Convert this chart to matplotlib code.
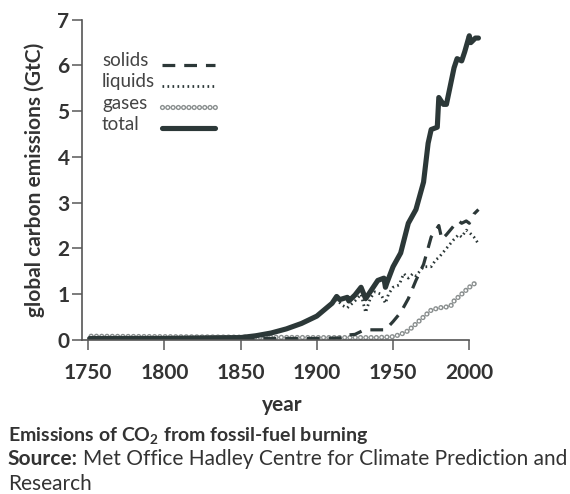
import numpy as np
import matplotlib.pyplot as plt
from matplotlib.lines import Line2D

plt.rcParams['font.family'] = ['Lato', 'DejaVu Sans']
plt.rcParams['mathtext.fontset'] = 'custom'
plt.rcParams['mathtext.bf'] = 'Lato:bold'
plt.rcParams['mathtext.rm'] = 'Lato'
plt.rcParams['mathtext.default'] = 'bf'

ink = '#2c3838'
txt = '#333333'

# values (GtC)
total_years = [1751, 1800, 1850, 1860, 1870, 1880, 1890, 1900, 1910, 1913, 1915,
               1920, 1921, 1925, 1929, 1932, 1937, 1940, 1944, 1945, 1946, 1950,
               1955, 1960, 1965, 1970, 1973, 1975, 1979, 1980, 1983, 1985, 1990,
               1992, 1995, 1997, 2000, 2001, 2004, 2006]
total_vals = [0.03, 0.03, 0.05, 0.09, 0.15, 0.24, 0.36, 0.52, 0.80, 0.95, 0.88,
              0.93, 0.85, 0.98, 1.15, 0.90, 1.15, 1.30, 1.35, 1.15, 1.25, 1.60,
              1.90, 2.55, 2.85, 3.45, 4.30, 4.60, 4.65, 5.30, 5.15, 5.15, 5.95,
              6.15, 6.10, 6.30, 6.65, 6.50, 6.60, 6.60]

liquid_years = [1751, 1800, 1850, 1860, 1870, 1880, 1890, 1900, 1910, 1913, 1917,
                1920, 1925, 1929, 1932, 1935, 1938, 1942, 1945, 1947, 1950, 1954,
                1957, 1960, 1963, 1965, 1970, 1975, 1978, 1980, 1985, 1990, 1993,
                1995, 1998, 2000, 2003, 2006]
liquid_vals = [0.04, 0.05, 0.07, 0.10, 0.16, 0.24, 0.36, 0.52, 0.80, 0.88, 0.75,
               0.70, 0.85, 1.00, 0.60, 0.90, 1.05, 1.00, 0.80, 1.00, 1.15, 1.20,
               1.45, 1.35, 1.45, 1.40, 1.60, 1.60, 1.75, 1.80, 2.00, 2.20, 2.30,
               2.25, 2.40, 2.35, 2.25, 2.10]

solid_years = [1751, 1850, 1900, 1915, 1918, 1925, 1930, 1935, 1945, 1950, 1955,
               1960, 1965, 1970, 1975, 1978, 1980, 1982, 1985, 1990, 1993, 1995,
               1998, 2000, 2003, 2006]
solid_vals = [0.03, 0.03, 0.03, 0.04, 0.10, 0.12, 0.20, 0.22, 0.22, 0.40, 0.60,
              0.90, 1.30, 1.65, 2.25, 2.40, 2.50, 2.20, 2.30, 2.50, 2.60, 2.55,
              2.60, 2.55, 2.75, 2.85]

gas_years = [1752, 1800, 1850, 1900, 1940, 1950, 1955, 1960, 1965, 1970, 1975,
             1980, 1985, 1988, 1990, 1995, 2000, 2005]
gas_vals = [0.08, 0.07, 0.06, 0.05, 0.05, 0.07, 0.12, 0.20, 0.35, 0.50, 0.65,
            0.70, 0.72, 0.75, 0.85, 1.00, 1.15, 1.27]

labels = ['solids', 'liquids', 'gases', 'total']

# line styles
gap = 3.8
gas_out = dict(color='#8a8f8f', lw=3.8, linestyle=(0, (0.001, gap / 3.8)),
               dash_capstyle='round')
gas_in = dict(color='white', lw=1.8, linestyle=(0, (0.001, gap / 1.8)),
              dash_capstyle='round')
solid_st = dict(color=ink, lw=2.3, linestyle=(0, (4, 2.8)))
liquid_st = dict(color=ink, lw=2.0, linestyle=(0, (0.6, 1.2)))
total_st = dict(color=ink, lw=3.7, solid_capstyle='round', solid_joinstyle='round')

fig = plt.figure(figsize=(5.7, 4.94), dpi=100)
ax = fig.add_axes([0.1439, 0.312, 0.7035, 0.648])

ax.plot(gas_years, gas_vals, **gas_out)
ax.plot(gas_years, gas_vals, **gas_in)
ax.plot(solid_years, solid_vals, **solid_st)
ax.plot(liquid_years, liquid_vals, **liquid_st)
ax.plot(total_years, total_vals, **total_st)

# legend, labels on the left and keys on the right
key_styles = [[solid_st], [liquid_st], [gas_out, gas_in], [total_st]]
text_y = [60, 82, 103, 125]
key_y = [65, 86, 107, 128]
for lab, ty, ky, sts in zip(labels, text_y, key_y, key_styles):
    fig.text(102 / 570, 1 - ty / 494, lab, fontsize=13.5, color='#444444',
             va='center', ha='left')
    for st in sts:
        fig.add_artist(Line2D([162 / 570, 215 / 570], [1 - ky / 494] * 2,
                              transform=fig.transFigure, **st))

ax.set_xlim(1746, 2009)
ax.set_ylim(0, 7)
ax.spines['top'].set_visible(False)
ax.spines['right'].set_visible(False)
ax.spines['bottom'].set_bounds(1746, 2000)
ax.spines['left'].set_bounds(0, 7)
for s in ['left', 'bottom']:
    ax.spines[s].set_color('#555555')
    ax.spines[s].set_linewidth(1.2)

ax.set_xticks([1750, 1800, 1850, 1900, 1950, 2000])
ax.set_yticks(range(0, 8))
ax.tick_params(direction='out', length=7, width=1.2, color='#666666',
               labelsize=15, labelcolor=txt)
ax.tick_params(axis='x', pad=10)
ax.tick_params(axis='y', pad=2)
for lab in ax.get_xticklabels() + ax.get_yticklabels():
    lab.set_fontweight('bold')

ax.set_xlabel('year', fontsize=15, fontweight='bold', color=txt, labelpad=8)
ax.set_ylabel('global carbon emissions (GtC)', fontsize=15, fontweight='bold',
              color=txt, labelpad=9)

fig.text(0.014, 0.108, 'Emissions of CO$_2$ from fossil-fuel burning',
         fontsize=14, fontweight='bold', color=txt)
src = fig.text(0.014, 0.058, 'Source:', fontsize=15, fontweight='bold', color=txt)
r = fig.canvas.get_renderer()
w = src.get_window_extent(renderer=r).width
fig.text(0.014 + (w + 5) / 570, 0.058,
         'Met Office Hadley Centre for Climate Prediction and',
         fontsize=15, color=txt)
fig.text(0.014, 0.008, 'Research', fontsize=15, color=txt)

fig.savefig('out.png', dpi=100)
